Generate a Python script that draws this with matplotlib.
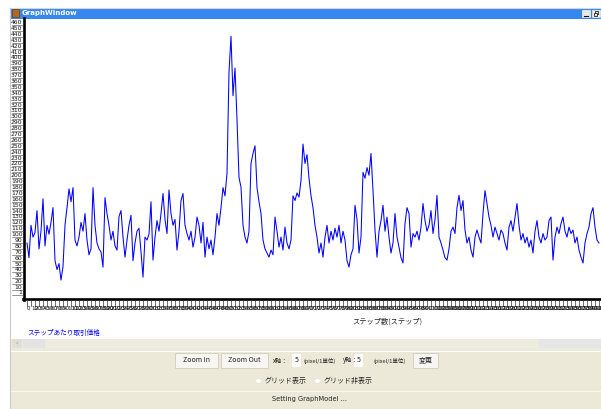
import matplotlib.pyplot as plt
import matplotlib.transforms as mtransforms
import numpy as np
from matplotlib.lines import Line2D
from matplotlib.patches import Circle, Rectangle

plt.rcParams['font.family'] = ['Noto Sans CJK JP', 'DejaVu Sans']

W, H = 601, 409

# price per step (one value every 5 steps)
step_interval = 5
prices = [
    90, 65, 120, 100, 108, 145, 80, 110, 165, 85,
    120, 105, 125, 150, 60, 45, 55, 27, 50, 120,
    150, 182, 160, 184, 95, 85, 100, 125, 110, 140,
    95, 70, 80, 184, 120, 90, 80, 75, 49, 167,
    140, 120, 95, 110, 85, 78, 135, 145, 100, 66,
    95, 120, 137, 60, 90, 110, 115, 75, 32, 100,
    95, 105, 160, 61, 100, 128, 110, 140, 174, 130,
    106, 180, 140, 120, 130, 78, 110, 162, 174, 120,
    106, 95, 110, 83, 100, 134, 120, 90, 125, 66,
    100, 80, 95, 70, 100, 140, 120, 150, 184, 170,
    208, 380, 441, 340, 387, 300, 201, 185, 120, 100,
    90, 110, 225, 242, 255, 184, 160, 140, 95, 80,
    73, 66, 78, 70, 134, 110, 83, 100, 78, 117,
    90, 80, 95, 170, 162, 175, 168, 196, 258, 225,
    240, 200, 170, 150, 120, 100, 73, 90, 66, 100,
    120, 90, 110, 95, 115, 100, 120, 90, 110, 95,
    60, 49, 70, 80, 154, 130, 73, 100, 210, 200,
    218, 205, 242, 179, 112, 66, 110, 128, 154, 110,
    134, 100, 73, 90, 140, 100, 83, 65, 56, 123,
    150, 140, 83, 106, 100, 110, 95, 117, 157, 128,
    110, 120, 145, 106, 130, 171, 100, 90, 78, 65,
    61, 80, 110, 117, 106, 150, 171, 145, 162, 112,
    90, 100, 78, 66, 100, 112, 100, 90, 140, 179,
    157, 134, 120, 100, 117, 106, 95, 112, 106, 90,
    78, 117, 128, 110, 134, 157, 120, 95, 106, 90,
    100, 83, 95, 73, 110, 128, 100, 90, 106, 95,
    100, 128, 134, 61, 100, 117, 106, 123, 134, 110,
    100, 117, 106, 112, 90, 100, 78, 66, 56, 90,
    106, 117, 140, 150, 117, 95, 90,
]
steps = np.arange(len(prices)) * step_interval

y_tick_values = [1] + list(range(10, 461, 10))
x_tick_values = list(range(0, 1440, 10))

series_label = "ステップあたり取引価格"
x_label = "ステップ数(ステップ)"


def fx(x):
    return x / W


def fy(y):
    return 1 - y / H


fig = plt.figure(figsize=(W / 100, H / 100), dpi=100)
fig.patch.set_facecolor("white")


def rect(x0, y0, x1, y1, **kw):
    fig.add_artist(Rectangle((fx(x0), fy(y1)), (x1 - x0) / W, (y1 - y0) / H,
                             transform=fig.transFigure, **kw))


def hline(x0, x1, y, **kw):
    fig.add_artist(Line2D([fx(x0), fx(x1)], [fy(y), fy(y)], transform=fig.transFigure, **kw))


def vline(x, y0, y1, **kw):
    fig.add_artist(Line2D([fx(x), fx(x)], [fy(y0), fy(y1)], transform=fig.transFigure, **kw))


def text(x, y, s, **kw):
    fig.text(fx(x), fy(y), s, **kw)


# --- window frame / title bar ---
hline(10, 601, 7.5, color="#D6D6D6", lw=0.8)
vline(10.5, 8, 409, color="#C9C9C9", lw=0.8)
rect(10, 8, 601, 18.5, color="#3688F0", lw=0)
rect(12, 9.5, 19, 16.5, facecolor="#B5651D", edgecolor="#5A3000", lw=0.4)
text(22, 13.5, "GraphWindow", color="white", fontsize=5, fontweight="bold",
     family="DejaVu Sans", va="center", ha="left")
for bx in (582, 592):
    rect(bx, 9.5, bx + 8, 17, facecolor="#ECE9D8", edgecolor="#FFFFFF", lw=0.4)
hline(584, 588, 15.5, color="black", lw=0.8)
rect(594.5, 11, 598, 14, facecolor="none", edgecolor="black", lw=0.5)
rect(593.5, 12.5, 597, 15.5, facecolor="#ECE9D8", edgecolor="black", lw=0.5)

# --- plot area ---
ax = fig.add_axes([fx(25), fy(298), (601 - 25) / W, (298 - 18) / H])
ax.set_xlim(-5, 1435)
ax.set_ylim(-3.4, 472)
ax.axis("off")
ax.plot(steps, prices, color="#0000FF", lw=0.75)

# axes lines
vline(24, 18, 300, color="black", lw=1.9)
hline(23, 601, 299, color="black", lw=1.9)

# y ticks
ytr = mtransforms.blended_transform_factory(fig.transFigure, ax.transData)
for v in y_tick_values:
    fig.add_artist(Line2D([fx(12), fx(23)], [v, v], transform=ytr, color="#444444", lw=0.4))
    fig.text(fx(22.5), v, str(v), transform=ytr, ha="right", va="bottom",
             fontsize=4.4, family="DejaVu Sans", color="#111111")

# x ticks
xtr = mtransforms.blended_transform_factory(ax.transData, fig.transFigure)
for t in x_tick_values:
    fig.add_artist(Line2D([t, t], [fy(300), fy(306)], transform=xtr, color="#333333", lw=0.5))
    fig.text(t, fy(306.5), str(t), transform=xtr, ha="left", va="top",
             fontsize=4.0, family="DejaVu Sans", color="#111111", clip_on=True)

text(387, 322, x_label, fontsize=5.2, ha="center", va="center", color="#222222")
text(27, 333, series_label, fontsize=4.8, ha="left", va="center", color="#0000FF")

# --- scrollbar ---
rect(11, 338.5, 601, 349, color="#EEEBDF", lw=0)
rect(12, 339, 22, 348, color="#E1DFD6", lw=0)
text(17, 343.5, "◀", fontsize=3, color="#C4C4C4", ha="center", va="center", family="DejaVu Sans")
rect(22.5, 339, 45, 348, color="#E3E3E3", lw=0)
rect(539, 339, 601, 348, color="#E6E6E6", lw=0)

# --- control panel ---
rect(11, 349, 601, 409, color="#ECE9D8", lw=0)
hline(11, 601, 350.5, color="white", lw=0.8)
hline(11, 601, 390.5, color="#F7F6F1", lw=0.8)


def button(x0, x1, label):
    rect(x0, 353, x1, 368, facecolor="#F7F6F2", edgecolor="#CFCBBE", lw=0.6)
    text((x0 + x1) / 2, 360.5, label, fontsize=5, ha="center", va="center",
         color="#222222")


button(175, 218, "Zoom In")
button(221, 268, "Zoom Out")
button(413, 438, "変更")

text(273, 360.5, "x軸：", fontsize=4.4, ha="left", va="center", color="#222222")
rect(292, 354, 301, 367, color="white", lw=0)
text(296.5, 360.5, "5", fontsize=5, ha="center", va="center", color="#222222")
text(303, 360.5, "(pixel/1単位)", fontsize=4.0, ha="left", va="center", color="#222222")
text(343, 360.5, "y軸：", fontsize=4.4, ha="left", va="center", color="#222222")
rect(354, 354, 363, 367, color="white", lw=0)
text(358.5, 360.5, "5", fontsize=5, ha="center", va="center", color="#222222")
text(373, 360.5, "(pixel/1単位)", fontsize=4.0, ha="left", va="center", color="#222222")

for cx, lab in ((258.5, "グリッド表示"), (317.5, "グリッド非表示")):
    fig.add_artist(Circle((fx(cx), fy(381)), 3.5 / W, transform=fig.transFigure,
                          facecolor="white", edgecolor="#E2DFD3", lw=0.5))
    text(cx + 6, 381, lab, fontsize=5, ha="left", va="center", color="#222222")

text(310, 399, "Setting GraphModel ...", fontsize=4.8, ha="center", va="center",
     color="#222222", family="DejaVu Sans")

fig.savefig("out.png", dpi=100)
